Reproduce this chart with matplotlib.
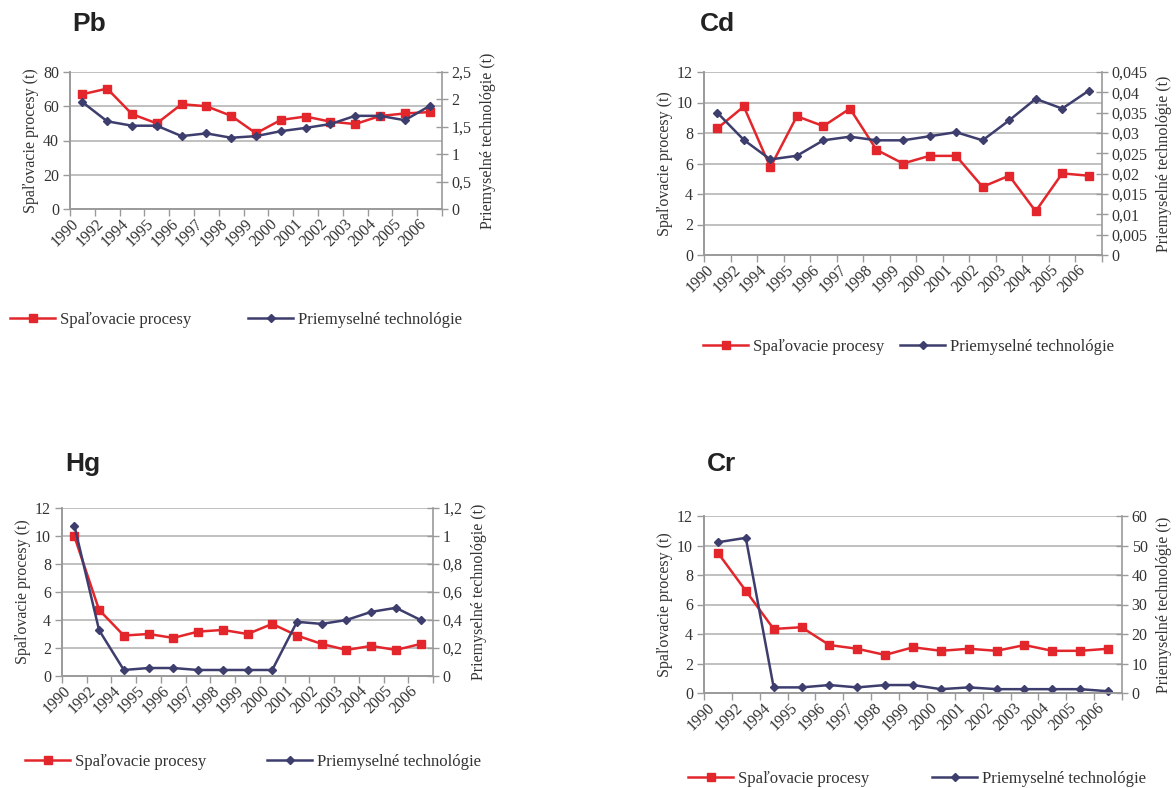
import matplotlib
matplotlib.use("Agg")
import matplotlib.pyplot as plt
from matplotlib.ticker import FuncFormatter, MultipleLocator, FixedLocator

plt.rcParams['font.family'] = ['Liberation Serif', 'DejaVu Serif']

years = ['1990', '1992', '1994', '1995', '1996', '1997', '1998', '1999',
         '2000', '2001', '2002', '2003', '2004', '2005', '2006']

pb_spal = [67, 70.3, 55.4, 50, 61.2, 60, 54.4, 44.2, 52, 54, 51, 49.6, 54.3, 55.8, 56.6]
pb_prie = [1.95, 1.6, 1.52, 1.52, 1.33, 1.38, 1.30, 1.33, 1.42, 1.48, 1.55, 1.70, 1.70, 1.62, 1.88]

cd_spal = [8.3, 9.74, 5.75, 9.1, 8.45, 9.6, 6.9, 6.0, 6.5, 6.5, 4.47, 5.2, 2.87, 5.35, 5.2]
cd_prie = [0.035, 0.0283, 0.0235, 0.0244, 0.0282, 0.0291, 0.0282, 0.0282, 0.0292, 0.0302,
           0.0282, 0.0331, 0.0384, 0.036, 0.0404]

hg_spal = [9.97, 4.72, 2.89, 3.0, 2.72, 3.17, 3.29, 3.0, 3.72, 2.89, 2.29, 1.86, 2.15, 1.86, 2.29]
hg_prie = [1.074, 0.327, 0.043, 0.057, 0.057, 0.043, 0.043, 0.043, 0.043, 0.387, 0.372, 0.40,
           0.458, 0.487, 0.40]

cr_spal = [9.5, 6.93, 4.34, 4.46, 3.25, 3.0, 2.58, 3.1, 2.86, 3.0, 2.86, 3.25, 2.86, 2.86, 3.0]
cr_prie = [51.1, 52.6, 1.9, 1.9, 2.7, 1.9, 2.7, 2.7, 1.3, 1.9, 1.3, 1.3, 1.3, 1.3, 0.6]

label_spal = 'Spaľovacie procesy'
label_prie = 'Priemyselné technológie'
ylabel_left = 'Spaľovacie procesy (t)'
ylabel_right = 'Priemyselné technológie (t)'

RED = '#e3262b'
BLUE = '#3d3d6e'
GRID = '#b5b5b5'
AX = '#9a9a9a'
TXT = '#333333'

W, H = 1176, 788
fig = plt.figure(figsize=(W / 100, H / 100), dpi=100)


def px_rect(x0, y0, x1, y1):
    return [x0 / W, 1 - y1 / H, (x1 - x0) / W, (y1 - y0) / H]


def fmt(v, pos):
    s = ('%g' % round(v, 6))
    return s.replace('.', ',')


panels = [
    dict(title='Pb', tpos=(72, 24), rect=(70, 72, 442, 209), spal=pb_spal, prie=pb_prie,
         lmax=80, lstep=20, rmax=2.5, rstep=0.5,
         leg=(10, 248, 320)),
    dict(title='Cd', tpos=(700, 24), rect=(704, 72, 1102, 255), spal=cd_spal, prie=cd_prie,
         lmax=12, lstep=2, rmax=0.045, rstep=0.005,
         leg=(703, 900, 347)),
    dict(title='Hg', tpos=(65, 464), rect=(62, 508, 433, 676), spal=hg_spal, prie=hg_prie,
         lmax=12, lstep=2, rmax=1.2, rstep=0.2,
         leg=(25, 267, 762)),
    dict(title='Cr', tpos=(707, 464), rect=(704, 516, 1122, 693), spal=cr_spal, prie=cr_prie,
         lmax=12, lstep=2, rmax=60, rstep=10,
         leg=(688, 932, 779)),
]

n = len(years)
xc = [i + 0.5 for i in range(n)]

for p in panels:
    ax = fig.add_axes(px_rect(*p['rect']))
    ax2 = ax.twinx()
    ax.set_xlim(0, n)
    ax.set_ylim(0, p['lmax'])
    ax2.set_ylim(0, p['rmax'])
    ax.yaxis.set_major_locator(MultipleLocator(p['lstep']))
    ax2.yaxis.set_major_locator(MultipleLocator(p['rstep']))
    ax.yaxis.set_major_formatter(FuncFormatter(fmt))
    ax2.yaxis.set_major_formatter(FuncFormatter(fmt))
    ax.grid(axis='y', color=GRID, linewidth=1.2)
    ax.set_axisbelow(True)

    ax.xaxis.set_major_locator(FixedLocator(list(range(n + 1))))
    ax.xaxis.set_minor_locator(FixedLocator(xc))
    ax.set_xticklabels([], minor=False)
    ax.set_xticklabels(years, minor=True, rotation=45, ha='right', va='top')
    ax.tick_params(axis='x', which='major', length=5, color=AX, width=1)
    ax.tick_params(axis='x', which='minor', length=0, pad=5, labelsize=11.5,
                   labelcolor=TXT)
    ax.tick_params(axis='y', length=5, color=AX, width=1, labelsize=11.5, pad=3,
                   labelcolor=TXT)
    ax2.tick_params(axis='y', direction='inout', length=8, color=AX, width=1,
                    labelsize=11.5, pad=3, labelcolor=TXT)

    for a in (ax, ax2):
        a.spines['top'].set_visible(False)
        for s in ('left', 'right', 'bottom'):
            a.spines[s].set_color(AX)
            a.spines[s].set_linewidth(1.2)
    ax.spines['right'].set_visible(False)

    l1, = ax.plot(xc, p['spal'], color=RED, linewidth=1.8, marker='s', markersize=5.5,
                  markeredgecolor=RED, markerfacecolor=RED, label=label_spal, clip_on=False)
    l2, = ax2.plot(xc, p['prie'], color=BLUE, linewidth=1.8, marker='D', markersize=3.8,
                   markeredgecolor=BLUE, markerfacecolor=BLUE, label=label_prie, clip_on=False)

    ax.set_ylabel(ylabel_left, fontsize=11.5, labelpad=3, color=TXT)
    ax2.set_ylabel(ylabel_right, fontsize=11.5, labelpad=6, color=TXT)

    fig.text(p['tpos'][0] / W, 1 - p['tpos'][1] / H, p['title'],
             family=['Liberation Sans', 'DejaVu Sans'], fontweight='bold', fontsize=19,
             ha='left', va='center', color='#222222')

    xr, xb, yl = p['leg']
    for h, x0 in ((l1, xr), (l2, xb)):
        leg = fig.legend(handles=[h], loc='center left',
                         bbox_to_anchor=(x0 / W, 1 - yl / H), frameon=False,
                         borderpad=0, borderaxespad=0, handlelength=2.7,
                         handletextpad=0.3, fontsize=12)
        for t in leg.get_texts():
            t.set_color(TXT)

fig.savefig('out.png', dpi=100, facecolor='white')
